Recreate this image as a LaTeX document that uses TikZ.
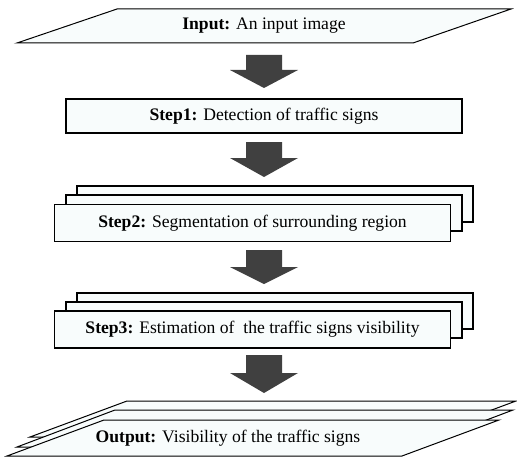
\documentclass[tikz,border=0pt]{standalone}
\usepackage{fontspec}
\setmainfont{Liberation Serif}
\definecolor{boxfill}{RGB}{248,252,252}
\definecolor{arrowgray}{RGB}{64,64,64}
\newcommand\blockarrow[3]{%
  \fill[arrowgray] (246,#1) -- (282,#1) -- (282,#2) -- (298,#2) -- (264,#3) -- (230,#2) -- (246,#2) -- cycle;}
\begin{document}
\begin{tikzpicture}[x=1pt,y=-1pt,
  box/.style={draw, line width=1.2pt, fill=boxfill, minimum width=396pt, minimum height=36pt, inner sep=0pt, font=\fontsize{17.6}{20}\selectfont},
  lbl/.style={font=\fontsize{17.6}{20}\selectfont, inner sep=0pt},
  para/.style={draw, line width=1pt, fill=boxfill, line join=miter}]
\useasboundingbox (0,0) rectangle (517,460);

% Input
\draw[para] (117,9) -- (511,9) -- (413,43) -- (17,43) -- cycle;
\node[lbl] (input) at (264,26) {\textbf{Input:} An input image};

\blockarrow{55}{70}{88}

% Step 1
\node[box, minimum height=34pt] (step1) at (264,116) {\textbf{Step1:} Detection of traffic signs};

\blockarrow{142}{158}{177}

% Step 2
\node[box] (step2c) at (275,204) {};
\node[box] (step2b) at (264,213) {};
\node[box, minimum height=37pt] (step2) at (252.5,223) {\textbf{Step2:} Segmentation of surrounding region};

\blockarrow{250}{267}{284}

% Step 3
\node[box] (step3c) at (275,311) {};
\node[box] (step3b) at (264,320) {};
\node[box, minimum height=37pt] (step3) at (252.5,329.5) {\textbf{Step3:} Estimation of~ the traffic signs visibility};

\blockarrow{355}{373}{393}

% Output
\draw[para] (127,401) -- (516,401) -- (419,437) -- (30,437) -- cycle;
\draw[para] (115,410) -- (513,410) -- (415,447) -- (17,447) -- cycle;
\draw[para] (104,420) -- (499,420) -- (402,456) -- (7,456) -- cycle;
\node[lbl] (output) at (228,438) {\textbf{Output:} Visibility of the traffic signs};
\end{tikzpicture}
\end{document}
